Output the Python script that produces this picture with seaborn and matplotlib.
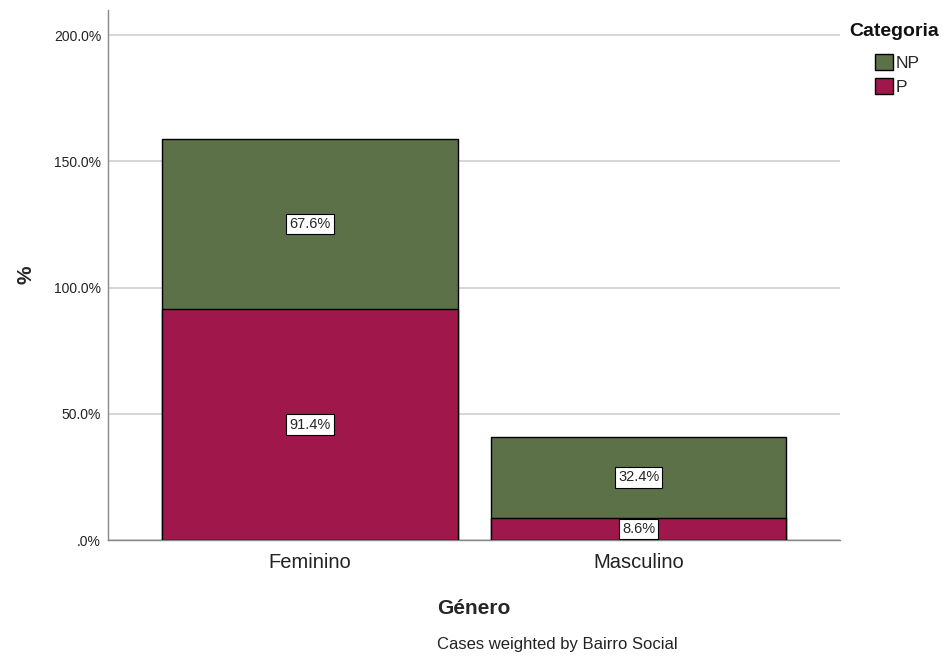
import matplotlib
matplotlib.use("Agg")
import matplotlib.pyplot as plt
import seaborn as sns
import pandas as pd
from matplotlib.patches import Patch

categories = ["Feminino", "Masculino"]
p_values = [91.4, 8.6]
np_values = [67.6, 32.4]
yticks = [0, 50, 100, 150, 200]
ytick_labels = [".0%", "50.0%", "100.0%", "150.0%", "200.0%"]

sns.set_theme(style="white")
plt.rcParams['font.family'] = ['Liberation Sans', 'DejaVu Sans']

green = "#5C7148"
red = "#A0184B"

df = pd.DataFrame({"Genero": categories, "P": p_values, "NP": np_values})
df["Total"] = df["P"] + df["NP"]

fig = plt.figure(figsize=(9.53, 6.56), dpi=100)
ax = fig.add_axes([108/953, (656-540)/656, (840-108)/953, (540-10)/656])

sns.barplot(data=df, x="Genero", y="Total", color=green, width=0.9,
            edgecolor="black", linewidth=1, saturation=1, ax=ax, zorder=3)
sns.barplot(data=df, x="Genero", y="P", color=red, width=0.9,
            edgecolor="black", linewidth=1, saturation=1, ax=ax, zorder=3)

bbox = dict(boxstyle="square,pad=0.22", facecolor="white", edgecolor="black", linewidth=0.8)
for i, (p, n) in enumerate(zip(p_values, np_values)):
    ax.text(i, p / 2, f"{p:.1f}%", ha="center", va="center", fontsize=10.5, bbox=bbox, zorder=5)
    ax.text(i, p + n / 2, f"{n:.1f}%", ha="center", va="center", fontsize=10.5, bbox=bbox, zorder=5)

ax.set_xlim(-0.615, 1.613)
ax.set_ylim(0, 210)
ax.set_yticks(yticks)
ax.set_yticklabels(ytick_labels, fontsize=10, color="#222222")
ax.yaxis.grid(True, color="#d0d0d0", linewidth=1.2, zorder=0)
ax.set_axisbelow(True)
ax.tick_params(axis="x", labelsize=14.5, colors="#222222", length=0, pad=9)
ax.tick_params(axis="y", length=0, pad=5)

for s in ["top", "right"]:
    ax.spines[s].set_visible(False)
for s in ["left", "bottom"]:
    ax.spines[s].set_color("#888888")
    ax.spines[s].set_linewidth(1)

ax.set_xlabel("Género", fontsize=15, fontweight="bold", labelpad=20)
ax.set_ylabel("%", fontsize=15, fontweight="bold", labelpad=13)

fig.text(849/953, 1 - 31/656, "Categoria", ha="left", va="center",
         fontsize=14, fontweight="bold", color="#111111")
handles = [Patch(facecolor=green, edgecolor="black", label="NP"),
           Patch(facecolor=red, edgecolor="black", label="P")]
leg = fig.legend(handles=handles, loc="upper left",
                 bbox_to_anchor=(872/953, 1 - 51/656), frameon=False,
                 fontsize=12.5, handlelength=1.0, handleheight=1.0, handletextpad=0.15,
                 labelspacing=0.4, borderpad=0.2, borderaxespad=0)

fig.text(557/953, 1 - 645/656, "Cases weighted by Bairro Social", ha="center", va="center",
         fontsize=12, color="#222222")

fig.savefig("out.png", dpi=100)
